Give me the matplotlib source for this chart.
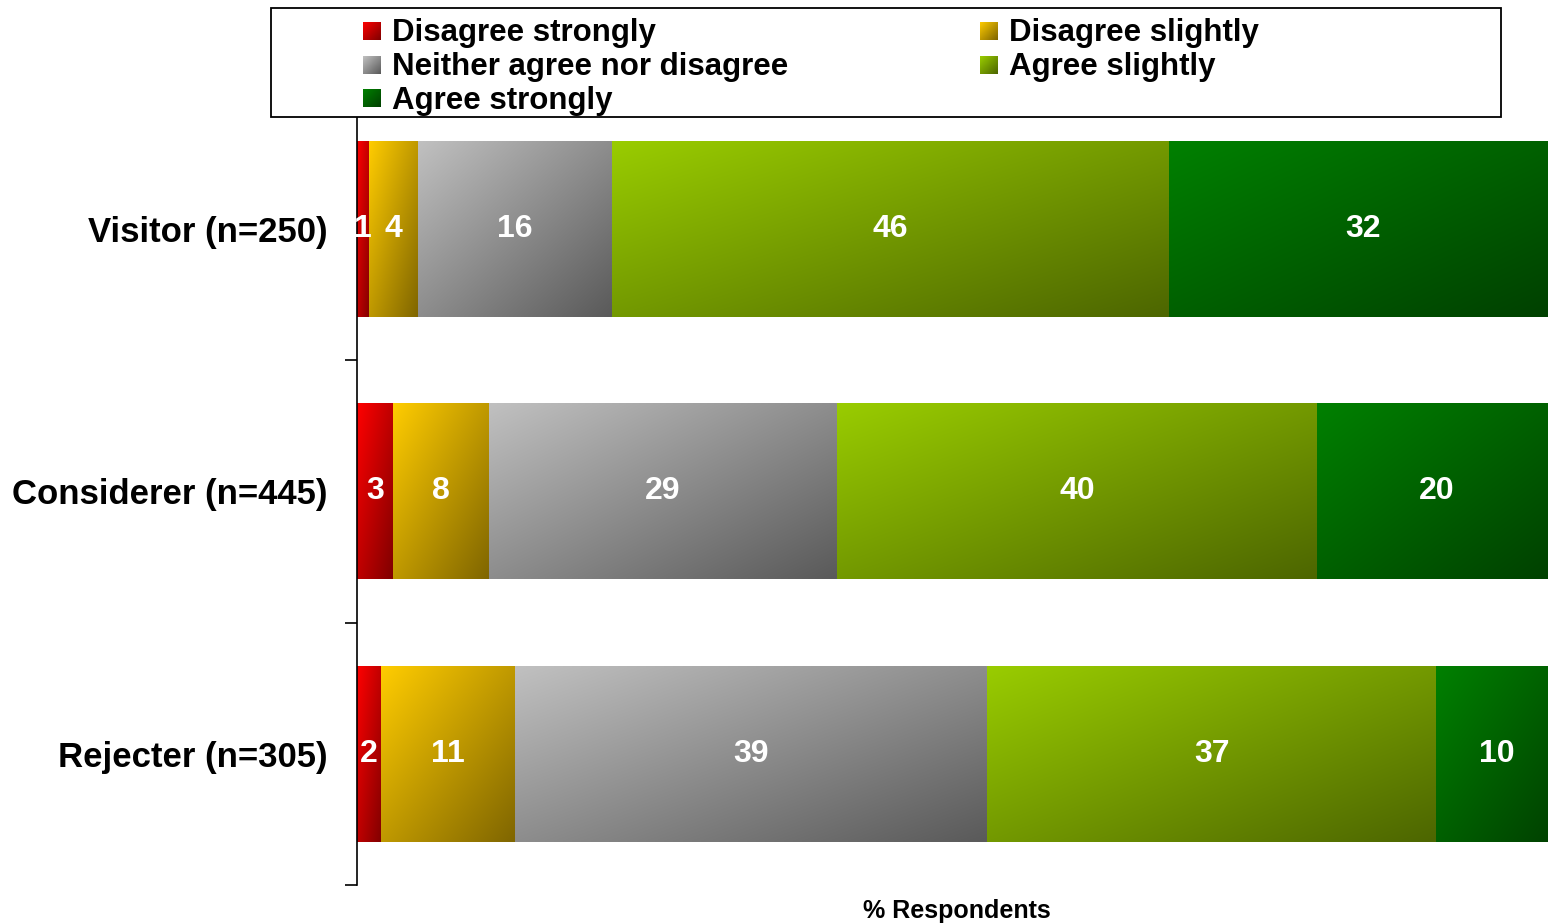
import numpy as np
import matplotlib
matplotlib.use("Agg")
import matplotlib.pyplot as plt
from matplotlib.patches import Rectangle

plt.rcParams['font.family'] = ['Liberation Sans', 'DejaVu Sans']
plt.rcParams['font.weight'] = 'bold'

# Datos
grupos = ["Visitor (n=250)", "Considerer (n=445)", "Rejecter (n=305)"]
categorias = ["Disagree strongly", "Disagree slightly", "Neither agree nor disagree",
              "Agree slightly", "Agree strongly"]
visitor = [1, 4, 16, 46, 32]
considerer = [3, 8, 29, 40, 20]
rejecter = [2, 11, 39, 37, 10]
valores = np.array([visitor, considerer, rejecter], dtype=float)

# Colores (claro -> oscuro) para el degradado
claros = [(255, 0, 0), (255, 204, 0), (192, 192, 192), (153, 204, 0), (0, 128, 0)]
oscuros = [(128, 0, 0), (128, 102, 0), (90, 90, 90), (77, 102, 0), (0, 64, 0)]

W, H, dpi = 1548, 923, 100


def degradado(c1, c2, nx=120, ny=60):
    u = np.linspace(0, 1, nx)[None, :]
    v = np.linspace(0, 1, ny)[:, None]
    t = np.clip((u + v) / 2, 0, 1)[..., None]
    a = np.array(c1)[None, None, :] / 255
    b = np.array(c2)[None, None, :] / 255
    return a * (1 - t) + b * t


fig = plt.figure(figsize=(W / dpi, H / dpi), dpi=dpi)
ax = fig.add_axes([357 / W, 1 - 885 / H, 1200 / W, 787.5 / H])

alto = 0.67
for i, fila in enumerate(valores):
    anchos = fila / fila.sum() * 100
    izq = 0
    for j, (v, w) in enumerate(zip(fila, anchos)):
        img = degradado(claros[j], oscuros[j])
        ax.imshow(img, extent=[izq, izq + w, i + alto / 2, i - alto / 2],
                  aspect='auto', interpolation='bilinear', zorder=2)
        ax.text(izq + w / 2, i, "%d" % v, color='white', fontsize=23,
                fontweight='bold', ha='center', va='center', zorder=3)
        izq += w

ax.set_xlim(0, 100)
ax.set_ylim(2.5, -0.5)
ax.set_yticks([0, 1, 2])
ax.set_yticklabels(grupos, fontsize=25, fontweight='bold')
ax.tick_params(axis='y', which='major', length=0, pad=21)
ax.set_yticks([-0.5, 0.5, 1.5, 2.5], minor=True)
ax.tick_params(axis='y', which='minor', length=9, width=1.2, direction='out')
ax.set_xticks([])
for s in ['top', 'right', 'bottom']:
    ax.spines[s].set_visible(False)
ax.spines['left'].set_linewidth(1.2)
ax.set_xlabel("% Respondents", fontsize=18, fontweight='bold', labelpad=10)

# Leyenda (marco + cuadros con degradado)
marco = Rectangle((271 / W, 1 - 117 / H), 1230 / W, 109 / H, transform=fig.transFigure,
                  facecolor='white', edgecolor='black', linewidth=1.3, zorder=5)
fig.patches.append(marco)
orden = [(0, 0), (1, 0), (0, 1), (1, 1), (0, 2)]
for j, (col, fil) in enumerate(orden):
    x0 = [363, 980][col]
    yc = [31, 65, 98][fil]
    sw = fig.add_axes([x0 / W, 1 - (yc + 9) / H, 18 / W, 18 / H], zorder=6)
    sw.imshow(degradado(claros[j], oscuros[j], 20, 20), aspect='auto', interpolation='bilinear')
    sw.axis('off')
    fig.text((x0 + 29) / W, 1 - (yc + 10.5) / H, categorias[j], fontsize=22.5,
             fontweight='bold', ha='left', va='baseline', zorder=6)

fig.savefig("out.png", dpi=dpi)
